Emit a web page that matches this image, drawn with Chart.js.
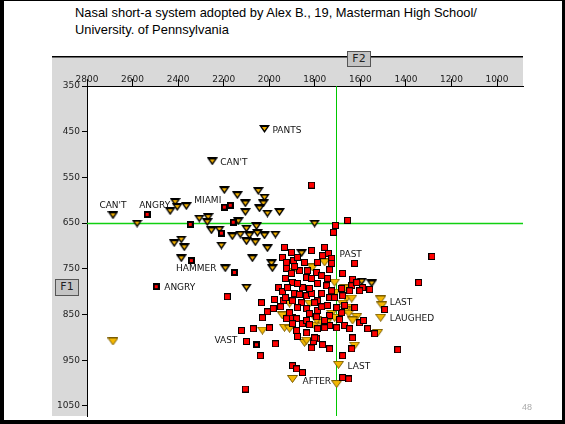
<!DOCTYPE html>
<html>
<head>
<meta charset="utf-8">
<title>Nasal short-a system</title>
<script src="https://cdn.jsdelivr.net/npm/chart.js@4.4.1/dist/chart.umd.min.js"></script>
<style>
  html, body { margin: 0; padding: 0; background: #fff; }
  #slide { position: relative; width: 565px; height: 424px; overflow: hidden; background: #fff; }
  #frame { position: absolute; left: 0; top: 0; width: 565px; height: 424px; box-sizing: border-box;
           border-left: 4px solid #000; border-top: 1px solid #000; border-right: 3px solid #000;
           border-bottom: 4px solid #000; z-index: 5; pointer-events: none; }
  #title { position: absolute; left: 75px; top: 4px; font-family: "Liberation Sans", Arial, sans-serif;
           font-size: 12.9px; line-height: 17px; color: #000; white-space: nowrap; }
  canvas { position: absolute; left: 0; top: 0; }
  .axisName { position: absolute; box-sizing: border-box; background: #c4c4c4; border: 1px solid #555;
              font-family: "DejaVu Sans", sans-serif; font-size: 11px; line-height: 14px; text-align: center; color: #222; }
  #pageNum { position: absolute; left: 522px; top: 402px; font-family: "Liberation Sans", sans-serif;
             font-size: 9px; color: #aaa; }
</style>
</head>
<body>
<div id="slide">
  <div id="title">Nasal short-a system adopted by Alex B., 19, Masterman High School/<br>University. of Pennsylvania</div>
  <canvas id="vowelChart" width="565" height="424"></canvas>
  <div class="axisName" style="left:347px; top:51px; width:24px; height:16px;">F2</div>
  <div class="axisName" style="left:55px; top:279px; width:24px; height:17px;">F1</div>
  <div id="pageNum">48</div>
  <div id="frame"></div>
</div>
<script>
// ticks
const f2Ticks = [2800, 2600, 2400, 2200, 2000, 1800, 1600, 1400, 1200, 1000];
const f1Ticks = [350, 450, 550, 650, 750, 850, 950, 1050];

// means (green cross)
const meanF2 = 1709;
const meanF1 = 650;

// tense /aeh/ before nasals (black outlined triangles)
const nasalF2 = [2021, 2250, 2686, 2580, 2413, 2435, 2404, 2364, 2307, 2268, 2272, 2197, 2140, 2105, 2105, 2048,
                 2021, 2026, 2043, 2008, 1955, 2136, 2254, 2219, 2162, 2127, 2100, 2056, 2087, 2100, 2061, 2021,
                 1973, 1801, 2417, 2386, 2373, 2210, 2386, 2193, 2074, 1990, 1986, 2100, 2008, 1594, 1550, 1858, 2052];
const nasalF1 = [444, 515, 633, 651, 604, 624, 615, 613, 640, 637, 648, 578, 589, 607, 626, 580,
                 594, 607, 618, 629, 626, 646, 666, 664, 679, 675, 662, 657, 677, 690, 692, 677,
                 675, 651, 694, 686, 703, 699, 727, 749, 727, 738, 749, 791, 705, 778, 782, 716, 672];

// other tense tokens (orange triangles)
const tenseF2 = [2686, 1898, 1704, 1696, 1511, 1506, 1511, 1524, 1625, 2030, 1933, 1911, 1845, 1801, 1942, 1911,
                 1898, 1810, 1757, 1713, 1709, 1669, 1660, 1638, 1678, 1647, 1665, 1651, 1616, 1634, 1770, 1748,
                 1726, 1792, 1823, 1836, 1713];
const tenseF1 = [909, 991, 1002, 960, 817, 830, 857, 890, 918, 885, 879, 881, 912, 874, 852, 826,
                 756, 747, 736, 780, 802, 793, 815, 815, 826, 835, 841, 848, 855, 863, 868, 868,
                 848, 863, 826, 907, 857];

// lax /ae/ (red squares)
const laxF2 = [1814, 1709, 1656, 1718, 1286, 1344, 1436, 1625, 2184, 2034, 1977, 2008, 1982, 2030, 2122, 2070,
               1999, 2100, 1973, 2039, 1898, 1880, 1854, 2105, 1678, 1678, 1651, 1493, 1537, 1568, 1603, 1586,
               1634, 1638, 1766, 1735, 1792, 1933, 1814, 1902, 1942, 1924, 1893, 1876, 1924, 1902, 1898, 1867,
               1832, 1792, 1836, 1814, 1959, 1942, 1920, 1889, 1867, 1836, 1814, 1938, 1740, 1766, 1726, 1726,
               1735, 1678, 1634, 1590, 1559, 1638, 1770, 1744, 1788, 1748, 1726, 1735, 1788, 1744, 1788, 1735,
               1735, 1704, 1757, 1625, 1898, 1924, 1880, 1876, 1836, 1806, 1814, 1801, 1854, 1836, 1823, 1770,
               1854, 1876, 1898, 1858, 1801, 1770, 1876, 1836, 1823, 1792, 1682, 1691, 1911, 1880, 1898, 1823,
               1788, 1669, 1647, 1682, 1678, 1616, 1603, 1845, 1788, 1889, 1929, 1929, 1757, 1669, 1704, 1713,
               1950, 1647, 1757];
const laxF1 = [567, 655, 644, 670, 723, 780, 927, 738, 811, 824, 817, 844, 837, 857, 885, 881,
               879, 909, 914, 940, 962, 969, 977, 1013, 940, 988, 991, 839, 892, 881, 868, 863,
               901, 925, 916, 925, 903, 703, 710, 714, 725, 736, 732, 725, 749, 760, 780, 754,
               754, 758, 769, 771, 791, 800, 791, 804, 806, 809, 804, 820, 716, 721, 727, 738,
               752, 760, 773, 791, 795, 787, 765, 771, 782, 787, 798, 813, 820, 830, 841, 852,
               874, 879, 879, 835, 857, 859, 885, 898, 890, 909, 923, 901, 870, 863, 793, 804,
               791, 782, 820, 824, 824, 833, 835, 837, 848, 855, 846, 861, 846, 859, 870, 872,
               881, 874, 881, 793, 809, 780, 798, 736, 736, 745, 771, 813, 703, 830, 835, 813,
               833, 798, 863];

// lax tokens drawn with heavy outline
const laxDarkF2 = [2536, 2496, 2347, 2197, 2171, 2158, 2210, 2342, 2153, 2056];
const laxDarkF1 = [631, 789, 653, 615, 611, 648, 672, 732, 758, 916];

// word labels
const labelText = ['PANTS', "CAN'T", "CAN'T", 'ANGRY', 'MIAMI', 'HAMMER', 'ANGRY', 'VAST', 'PAST', 'LAST', 'LAUGHED', 'LAST', 'AFTER'];
const labelF2 = [1986, 2215, 2686, 2571, 2329, 2232, 2461, 2140, 1691, 1471, 1471, 1656, 1854];
const labelF1 = [447, 517, 611, 611, 600, 749, 791, 907, 719, 824, 859, 964, 997];
const labelAlign = ['left', 'left', 'center', 'left', 'left', 'right', 'left', 'right', 'left', 'left', 'left', 'left', 'left'];

function toPoints(xs, ys) {
    return xs.map((x, i) => ({ x: x, y: ys[i] }));
}

// marker images
function triangleMarker(heavy) {
    const c = document.createElement('canvas');
    c.width = 11; c.height = 8;
    const g = c.getContext('2d');
    if (heavy) {
        g.fillStyle = '#000';
        g.beginPath(); g.moveTo(0, 0); g.lineTo(11, 0); g.lineTo(5.5, 8); g.closePath(); g.fill();
        g.fillStyle = '#f2b000';
        g.beginPath(); g.moveTo(3, 2); g.lineTo(8, 2); g.lineTo(5.5, 5.6); g.closePath(); g.fill();
    } else {
        g.fillStyle = '#f5b800';
        g.strokeStyle = '#7a5c00';
        g.lineWidth = 1;
        g.beginPath(); g.moveTo(0.5, 0.5); g.lineTo(10.5, 0.5); g.lineTo(5.5, 7.5); g.closePath();
        g.fill(); g.stroke();
    }
    return c;
}

function squareMarker(heavy) {
    const c = document.createElement('canvas');
    c.width = 7; c.height = 7;
    const g = c.getContext('2d');
    g.fillStyle = '#000';
    g.fillRect(0, 0, 7, 7);
    g.fillStyle = '#ff0000';
    if (heavy) g.fillRect(2, 2, 3, 3);
    else g.fillRect(1, 1, 5, 5);
    return c;
}

// gray frame behind the plot
const backdrop = {
    id: 'backdrop',
    beforeDraw(chart) {
        const ctx = chart.ctx;
        const a = chart.chartArea;
        ctx.save();
        ctx.fillStyle = '#d9d9d9';
        ctx.fillRect(52, 57, a.right - 52, a.bottom - 57);
        ctx.fillStyle = '#fff';
        ctx.fillRect(a.left, a.top, a.right - a.left, a.bottom - a.top);
        ctx.fillStyle = '#000';
        ctx.fillRect(52, 56, a.right - 52, 1.5);
        ctx.restore();
    }
};

// green mean lines
const meanLines = {
    id: 'meanLines',
    beforeDatasetsDraw(chart) {
        const ctx = chart.ctx;
        const a = chart.chartArea;
        const x = Math.round(chart.scales.x.getPixelForValue(meanF2));
        const y = Math.round(chart.scales.y.getPixelForValue(meanF1));
        ctx.save();
        ctx.fillStyle = '#00c800';
        ctx.fillRect(x, a.top, 1, a.bottom - a.top);
        ctx.fillStyle = '#10d010';
        ctx.fillRect(a.left, y - 0.25, a.right - a.left, 1.5);
        ctx.restore();
    }
};

// word labels next to tokens
const wordLabels = {
    id: 'wordLabels',
    afterDatasetsDraw(chart) {
        const ctx = chart.ctx;
        ctx.save();
        ctx.font = '9px "DejaVu Sans"';
        ctx.fillStyle = '#111';
        ctx.textBaseline = 'middle';
        labelText.forEach((t, i) => {
            ctx.textAlign = labelAlign[i];
            ctx.fillText(t, chart.scales.x.getPixelForValue(labelF2[i]), chart.scales.y.getPixelForValue(labelF1[i]));
        });
        ctx.restore();
    }
};

const tickFont = { family: 'DejaVu Sans', size: 9 };

new Chart(document.getElementById('vowelChart'), {
    type: 'scatter',
    data: {
        datasets: [
            { label: 'lax', data: toPoints(laxF2, laxF1), pointStyle: squareMarker(false) },
            { label: 'lax (heavy)', data: toPoints(laxDarkF2, laxDarkF1), pointStyle: squareMarker(true) },
            { label: 'tense', data: toPoints(tenseF2, tenseF1), pointStyle: triangleMarker(false) },
            { label: 'pre-nasal', data: toPoints(nasalF2, nasalF1), pointStyle: triangleMarker(true) }
        ]
    },
    options: {
        responsive: false,
        animation: false,
        devicePixelRatio: 1,
        layout: { padding: { left: 52, top: 57, right: 42, bottom: 8 } },
        plugins: {
            legend: { display: false },
            tooltip: { enabled: false }
        },
        scales: {
            x: {
                type: 'linear',
                position: 'top',
                reverse: true,
                min: 886,
                max: 2800,
                afterBuildTicks: s => { s.ticks = f2Ticks.map(v => ({ value: v })); },
                afterFit: s => { s.height = 29; },
                grid: { drawOnChartArea: false, tickLength: 7, color: '#000' },
                border: { color: '#000' },
                ticks: { font: tickFont, color: '#222', padding: -6, maxRotation: 0, autoSkip: false,
                         callback: v => String(v) }
            },
            y: {
                type: 'linear',
                reverse: true,
                min: 350,
                max: 1072,
                afterBuildTicks: s => { s.ticks = f1Ticks.map(v => ({ value: v })); },
                afterFit: s => { s.width = 35; },
                grid: { drawOnChartArea: false, tickLength: 5, color: '#000' },
                border: { color: '#000' },
                ticks: { font: tickFont, color: '#222', padding: 2, autoSkip: false,
                         callback: v => String(v) }
            }
        }
    },
    plugins: [backdrop, meanLines, wordLabels]
});
</script>
</body>
</html>
